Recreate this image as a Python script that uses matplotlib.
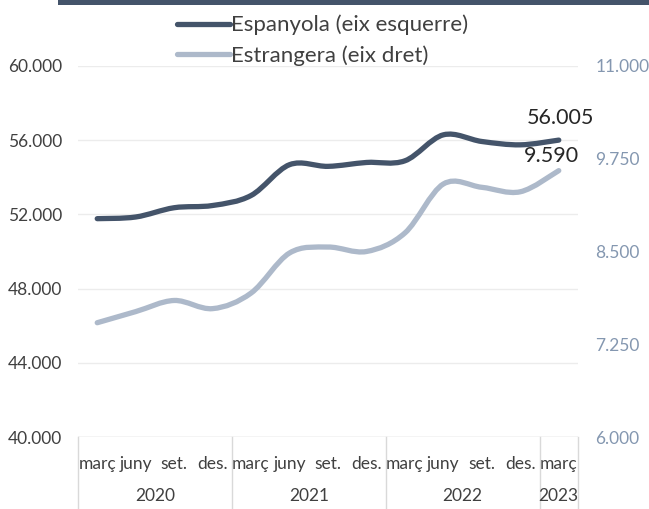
import numpy as np
import matplotlib.pyplot as plt
from matplotlib.path import Path
from matplotlib.patches import PathPatch
from matplotlib.lines import Line2D

plt.rcParams['font.family'] = ['Lato', 'DejaVu Sans']

months = ['març', 'juny', 'set.', 'des.'] * 3 + ['març']
years = ['2020', '2021', '2022', '2023']
year_sizes = [4, 4, 4, 1]

espanyola = [51770, 51860, 52360, 52480, 53020, 54680, 54590, 54800, 54890,
             56290, 55930, 55750, 56005]
estrangera = [7540, 7690, 7840, 7730, 7940, 8480, 8560, 8500, 8750,
              9410, 9365, 9305, 9590]

dark = '#44546a'
light = '#adb9ca'


def fmt(v):
    return f'{v:,.0f}'.replace(',', '.')


def smooth_path(x, y):
    # excel-style smoothed line: cubic bezier through every point
    x = np.asarray(x, float)
    y = np.asarray(y, float)
    pts = np.column_stack([x, y])
    n = len(pts)
    verts = [pts[0]]
    codes = [Path.MOVETO]
    for i in range(n - 1):
        p0 = pts[max(i - 1, 0)]
        p1 = pts[i]
        p2 = pts[i + 1]
        p3 = pts[min(i + 2, n - 1)]
        c1 = p1 + (p2 - p0) / 6
        c2 = p2 - (p3 - p1) / 6
        verts += [c1, c2, p2]
        codes += [Path.CURVE4] * 3
    return Path(verts, codes)


fig = plt.figure(figsize=(6.49, 5.09), dpi=100)
ax = fig.add_axes([78 / 649, 72 / 509, 500 / 649, 371 / 509])
ax2 = ax.twinx()

x = np.arange(len(months))

ax.set_xlim(-0.5, len(months) - 0.5)
ax.set_ylim(40000, 60000)
ax.set_yticks(np.arange(40000, 60001, 4000))
ax.set_yticklabels([fmt(v) for v in np.arange(40000, 60001, 4000)])
ax.grid(axis='y', color='#ececec', lw=1)
ax.set_axisbelow(True)

ax2.set_ylim(6000, 11000)
ax2.set_yticks(np.arange(6000, 11001, 1250))
ax2.set_yticklabels([fmt(v) for v in np.arange(6000, 11001, 1250)])

for a in (ax, ax2):
    for s in a.spines.values():
        s.set_visible(False)
    a.tick_params(length=0)

ax.tick_params(axis='y', labelsize=12.5, labelcolor='#404040', pad=11.5)
ax2.tick_params(axis='y', labelsize=12.5, labelcolor='#8497b0', pad=12.5)

ax.add_patch(PathPatch(smooth_path(x, espanyola), fill=False,
                       edgecolor=dark, lw=3.8, capstyle='round', zorder=3))
ax2.add_patch(PathPatch(smooth_path(x, estrangera), fill=False,
                        edgecolor=light, lw=3.8, capstyle='round', zorder=3))

ax.annotate(fmt(espanyola[-1]), (x[-1], espanyola[-1]), xytext=(1, 9),
            textcoords='offset points', ha='center', va='bottom',
            fontsize=15.5, color='#262626')
ax2.annotate(fmt(estrangera[-1]), (x[-1], estrangera[-1]), xytext=(-5, 3),
             textcoords='offset points', ha='center', va='bottom',
             fontsize=15.5, color='#262626')

# category axis
ax.set_xticks(x)
ax.set_xticklabels(months, fontsize=12.5, color='#404040')
ax.tick_params(axis='x', pad=14)
ax.axhline(40000, color='#d9d9d9', lw=1, zorder=1)

sep_col = '#d9d9d9'
bottom = -72 / 371
start = -0.5
edges = [start]
for name, size in zip(years, year_sizes):
    mid = start + size / 2
    ax.text(mid, -59 / 371, name, transform=ax.get_xaxis_transform(),
            ha='center', va='center', fontsize=12.5, color='#404040')
    start += size
    edges.append(start)
for e in edges:
    ax.plot([e, e], [0, bottom], transform=ax.get_xaxis_transform(),
            color=sep_col, lw=1, clip_on=False)

# top bar
fig.add_artist(plt.Rectangle((58 / 649, 1 - 5 / 509), 1, 5 / 509,
                             transform=fig.transFigure, color=dark, lw=0))

# legend
handles = [Line2D([], [], color=dark, lw=3.8, solid_capstyle='round'),
           Line2D([], [], color=light, lw=3.8, solid_capstyle='round')]
fig.legend(handles, ['Espanyola (eix esquerre)', 'Estrangera (eix dret)'],
           loc='upper left', bbox_to_anchor=(168 / 649, 1 - 6 / 509),
           frameon=False, fontsize=16, handlelength=2.4, handletextpad=0.05,
           labelspacing=0.45, labelcolor='#404040', borderaxespad=0)

fig.savefig('out.png', dpi=100)
